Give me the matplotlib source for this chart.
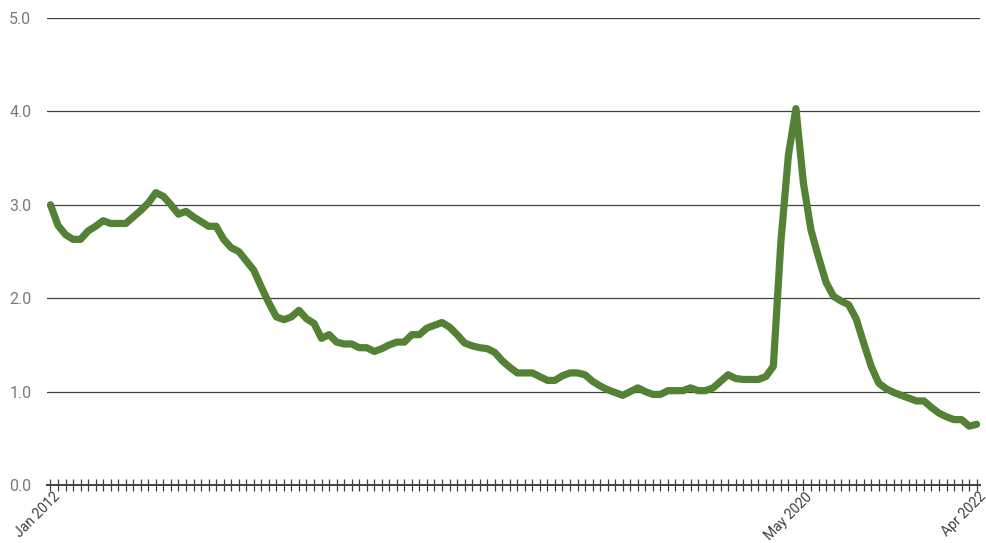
import matplotlib
matplotlib.use("Agg")
import matplotlib.pyplot as plt
import matplotlib.transforms as mtransforms
import pandas as pd

months = pd.date_range("2012-01-01", "2022-04-01", freq="MS")
month_labels = [d.strftime("%b %Y") for d in months]

values = [
    3.00, 2.78, 2.68, 2.63, 2.63, 2.72, 2.77, 2.83, 2.80, 2.80,
    2.80, 2.87, 2.94, 3.02, 3.13, 3.09, 3.00, 2.90, 2.93, 2.87,
    2.82, 2.77, 2.77, 2.63, 2.54, 2.50, 2.40, 2.30, 2.12, 1.95,
    1.80, 1.77, 1.80, 1.87, 1.78, 1.73, 1.57, 1.61, 1.53, 1.51,
    1.51, 1.47, 1.47, 1.43, 1.46, 1.50, 1.53, 1.53, 1.61, 1.61,
    1.68, 1.71, 1.74, 1.69, 1.61, 1.52, 1.49, 1.47, 1.46, 1.42,
    1.33, 1.26, 1.20, 1.20, 1.20, 1.16, 1.12, 1.12, 1.17, 1.20,
    1.20, 1.18, 1.11, 1.06, 1.02, 0.99, 0.96, 1.00, 1.04, 1.00,
    0.97, 0.97, 1.01, 1.01, 1.01, 1.04, 1.01, 1.01, 1.04, 1.11,
    1.18, 1.14, 1.13, 1.13, 1.13, 1.16, 1.27, 2.60, 3.53, 4.03,
    3.23, 2.73, 2.44, 2.17, 2.02, 1.97, 1.93, 1.78, 1.52, 1.27,
    1.09, 1.03, 0.99, 0.96, 0.93, 0.90, 0.90, 0.83, 0.77, 0.73,
    0.70, 0.70, 0.63, 0.65,
]

shown_labels = ["Jan 2012", "May 2020", "Apr 2022"]
y_ticks = [0.0, 1.0, 2.0, 3.0, 4.0, 5.0]

plt.rcParams['font.family'] = ['Roboto', 'DejaVu Sans']

fig = plt.figure(figsize=(9.87, 5.43), dpi=100)
ax = fig.add_axes([46.7 / 987, 1 - 485 / 543, (980.4 - 46.7) / 987, (485 - 18) / 543])

x = list(range(len(values)))
ax.plot(x, values, color="#548235", linewidth=5.2, solid_joinstyle="round",
        solid_capstyle="round", zorder=3)

ax.set_xlim(-0.5, len(values) - 0.5)
ax.set_ylim(0, 5)
ax.set_yticks(y_ticks)
ax.set_yticklabels([f"{v:.1f}" for v in y_ticks], fontsize=11.5, color="#7a7a7a")
ax.tick_params(axis="y", length=0, pad=11)
ax.grid(axis="y", color="#404040", linewidth=0.9)
ax.set_axisbelow(True)

ax.set_xticks(x)
ax.set_xticklabels([lbl if lbl in shown_labels else "" for lbl in month_labels],
                   rotation=45, ha="right", va="center", rotation_mode="anchor",
                   fontsize=10, color="#404040")
ax.tick_params(axis="x", direction="inout", length=8, width=0.9, color="#404040", pad=3)
offset = mtransforms.ScaledTranslation(7 / 100, 0, fig.dpi_scale_trans)
for lbl in ax.get_xticklabels():
    lbl.set_transform(lbl.get_transform() + offset)

for s in ["top", "right", "left"]:
    ax.spines[s].set_visible(False)
ax.spines["bottom"].set_color("#404040")
ax.spines["bottom"].set_linewidth(1.4)

fig.savefig("out.png", dpi=100)
